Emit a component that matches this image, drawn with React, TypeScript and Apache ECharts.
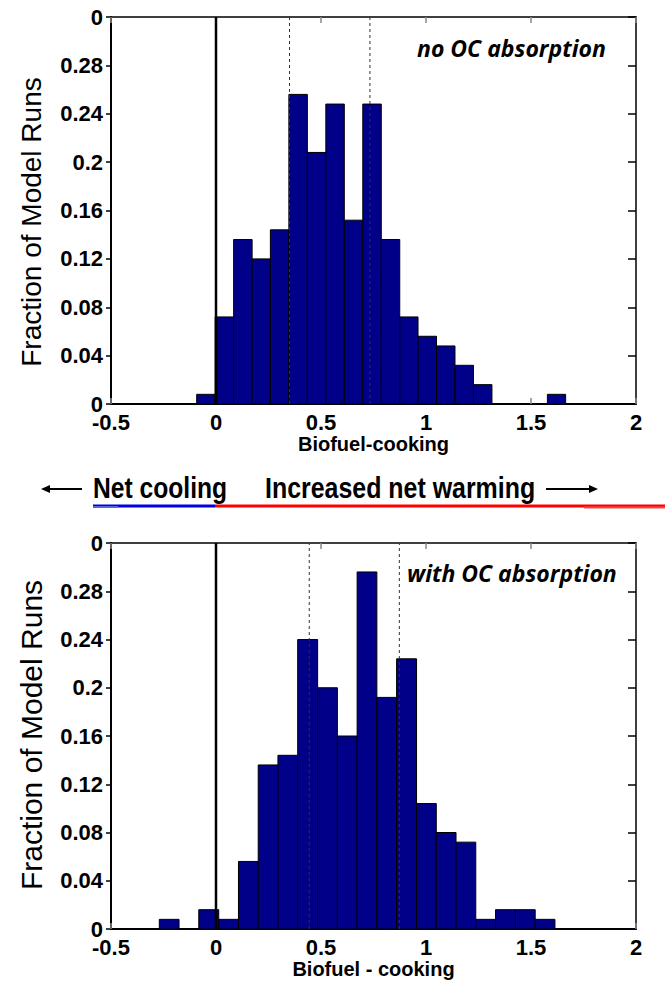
import React, { useEffect, useRef } from "react";
import * as echarts from "echarts";

// ---- data ----
const topBinEdges = [-0.092, -0.004, 0.084, 0.172, 0.259, 0.347, 0.435, 0.523, 0.611, 0.699, 0.787, 0.875, 0.962, 1.05, 1.138, 1.226, 1.314, 1.402, 1.49, 1.578, 1.665];
const topFractions = [0.008, 0.072, 0.136, 0.12, 0.144, 0.256, 0.208, 0.248, 0.152, 0.248, 0.136, 0.072, 0.056, 0.048, 0.032, 0.016, 0, 0, 0, 0.008];
const topDashed = [0.35, 0.733];

const bottomBinEdges = [-0.27, -0.176, -0.082, 0.013, 0.107, 0.201, 0.295, 0.389, 0.484, 0.578, 0.672, 0.766, 0.86, 0.955, 1.049, 1.143, 1.237, 1.331, 1.426, 1.52, 1.614];
const bottomFractions = [0.008, 0, 0.016, 0.008, 0.056, 0.136, 0.144, 0.24, 0.2, 0.16, 0.296, 0.192, 0.224, 0.104, 0.08, 0.072, 0.008, 0.016, 0.016, 0.008];
const bottomDashed = [0.444, 0.873];

const xMin = -0.5;
const xMax = 2;
const xStep = 0.5;
const yMin = 0;
const yMax = 0.32;
const yStep = 0.04;

const topTitle = "no OC absorption";
const bottomTitle = "with OC absorption";
const topXName = "Biofuel-cooking";
const bottomXName = "Biofuel - cooking";
const yName = "Fraction of Model Runs";

const BAR = "#000088";
const SANS = "'Liberation Sans', Arial, sans-serif";

function binsData(edges: number[], vals: number[]) {
  return vals.map((v, i) => [edges[i], edges[i + 1], v]);
}

function yFmt(v: number) {
  if (Math.abs(v - yMax) < 1e-9) return "0";
  return String(Math.round(v * 100) / 100);
}

function axesFor(grid: number, xName: string) {
  const xs = [
    {
      type: "value", gridIndex: grid, position: "bottom", min: xMin, max: xMax, interval: xStep,
      axisLine: { onZero: false, lineStyle: { color: "#000", width: 2 } },
      axisTick: { inside: true, length: 6, lineStyle: { color: "#888", width: 1.5 } },
      axisLabel: { margin: 10, lineHeight: 16, color: "#000", fontSize: 22, fontWeight: "bold", fontFamily: SANS, showMaxLabel: true, showMinLabel: true },
      splitLine: { show: false },
      name: xName, nameLocation: "middle", nameGap: 29,
      nameTextStyle: { color: "#000", fontSize: 20, fontWeight: "bold", fontFamily: SANS },
    },
    {
      type: "value", gridIndex: grid, position: "top", min: xMin, max: xMax, interval: xStep,
      axisLine: { onZero: false, lineStyle: { color: "#000", width: 1.5 } },
      axisTick: { inside: true, length: 6, lineStyle: { color: "#888", width: 1.5 } },
      axisLabel: { show: false },
      splitLine: { show: false },
    },
  ];
  const ys = [
    {
      type: "value", gridIndex: grid, position: "left", min: yMin, max: yMax, interval: yStep,
      axisLine: { show: true, onZero: false, lineStyle: { color: "#000", width: 2 } },
      axisTick: { show: true, inside: false, length: 5, lineStyle: { color: "#000", width: 1.5 } },
      axisLabel: { margin: 8, lineHeight: 16, color: "#000", fontSize: 22, fontWeight: "bold", fontFamily: SANS, formatter: yFmt, showMaxLabel: true },
      splitLine: { show: false },
    },
    {
      type: "value", gridIndex: grid, position: "right", min: yMin, max: yMax, interval: yStep,
      axisLine: { show: true, onZero: false, lineStyle: { color: "#000", width: 1.5 } },
      axisTick: { show: true, inside: true, length: 8, lineStyle: { color: "#000", width: 1.5 } },
      axisLabel: { show: false },
      splitLine: { show: false },
    },
  ];
  return { xs, ys };
}

function histSeries(xi: number, yi: number, edges: number[], vals: number[]) {
  return {
    type: "custom",
    xAxisIndex: xi,
    yAxisIndex: yi,
    encode: { x: [0, 1], y: 2 },
    data: binsData(edges, vals),
    z: 2,
    renderItem: (params: any, api: any) => {
      const h = api.value(2);
      if (!h) return null;
      const p0 = api.coord([api.value(0), h]);
      const p1 = api.coord([api.value(1), 0]);
      return {
        type: "rect",
        shape: { x: p0[0], y: p0[1], width: p1[0] - p0[0], height: p1[1] - p0[1] },
        style: { fill: BAR, stroke: "#000", lineWidth: 1 },
      };
    },
  };
}

function vLine(xi: number, yi: number, x: number, dashed: boolean) {
  return {
    type: "line",
    xAxisIndex: xi,
    yAxisIndex: yi,
    data: [[x, yMin], [x, yMax]],
    symbol: "none",
    silent: true,
    z: dashed ? 4 : 5,
    lineStyle: dashed
      ? { color: "#333", width: 1, type: [3, 3] }
      : { color: "#000", width: 2.5 },
  };
}

export default function App() {
  const ref = useRef<HTMLDivElement>(null);

  useEffect(() => {
    if (!ref.current) return;
    const chart = echarts.init(ref.current, null, { renderer: "svg" });
    const a1 = axesFor(0, topXName);
    const a2 = axesFor(1, bottomXName);

    const bandFont = `bold 29px ${SANS}`;
    const titleFont = `italic bold 23px 'Open Sans', sans-serif`;
    const option: any = {
      animation: false,
      backgroundColor: "#fff",
      grid: [
        { left: 111, top: 17, width: 525, height: 387 },
        { left: 111, top: 543, width: 525, height: 386 },
      ],
      xAxis: [...a1.xs, ...a2.xs],
      yAxis: [...a1.ys, ...a2.ys],
      series: [
        histSeries(0, 0, topBinEdges, topFractions),
        vLine(0, 0, 0, false),
        ...topDashed.map((d) => vLine(0, 0, d, true)),
        histSeries(2, 2, bottomBinEdges, bottomFractions),
        vLine(2, 2, 0, false),
        ...bottomDashed.map((d) => vLine(2, 2, d, true)),
      ],
      graphic: [
        {
          type: "text", x: 31, y: 222, rotation: Math.PI / 2,
          style: { text: yName, x: 0, y: 0, align: "center", verticalAlign: "middle", fill: "#000", font: `28px ${SANS}` },
        },
        {
          type: "text", x: 31, y: 735, rotation: Math.PI / 2,
          style: { text: yName, x: 0, y: 0, align: "center", verticalAlign: "middle", fill: "#000", font: `30px ${SANS}` },
        },
        {
          type: "text", x: 417, y: 48, z: 10,
          style: { text: topTitle, x: 0, y: 0, verticalAlign: "middle", align: "left", fill: "#000", font: titleFont },
        },
        {
          type: "text", x: 407, y: 573, z: 10,
          style: { text: bottomTitle, x: 0, y: 0, verticalAlign: "middle", align: "left", fill: "#000", font: titleFont },
        },
        // middle band: arrows, labels and coloured rule
        { type: "line", shape: { x1: 46, y1: 489, x2: 82, y2: 489 }, style: { stroke: "#000", lineWidth: 2 } },
        { type: "polygon", shape: { points: [[41, 489], [50, 485], [50, 493]] }, style: { fill: "#000" } },
        {
          type: "text", x: 93, y: 488, scaleX: 0.85,
          style: { text: "Net cooling", x: 0, y: 0, verticalAlign: "middle", align: "left", fill: "#000", font: bandFont },
        },
        {
          type: "text", x: 265, y: 488, scaleX: 0.86,
          style: { text: "Increased net warming", x: 0, y: 0, verticalAlign: "middle", align: "left", fill: "#000", font: bandFont },
        },
        { type: "line", shape: { x1: 546, y1: 489, x2: 593, y2: 489 }, style: { stroke: "#000", lineWidth: 2 } },
        { type: "polygon", shape: { points: [[598, 489], [589, 485], [589, 493]] }, style: { fill: "#000" } },
        { type: "line", shape: { x1: 93, y1: 506, x2: 215, y2: 506 }, style: { stroke: "#0000e6", lineWidth: 3 } },
        { type: "line", shape: { x1: 93, y1: 507, x2: 118, y2: 507 }, style: { stroke: "#5566e0", lineWidth: 2 } },
        { type: "line", shape: { x1: 215, y1: 506, x2: 665, y2: 506 }, style: { stroke: "#ff0000", lineWidth: 3 } },
        { type: "line", shape: { x1: 584, y1: 507.5, x2: 665, y2: 507.5 }, style: { stroke: "#f04a4a", lineWidth: 2 } },
      ],
    };
    chart.setOption(option);
    return () => chart.dispose();
  }, []);

  return (
    <div
      ref={ref}
      style={{ position: "absolute", left: 0, top: 0, width: 665, height: 982, background: "#fff" }}
    />
  );
}
